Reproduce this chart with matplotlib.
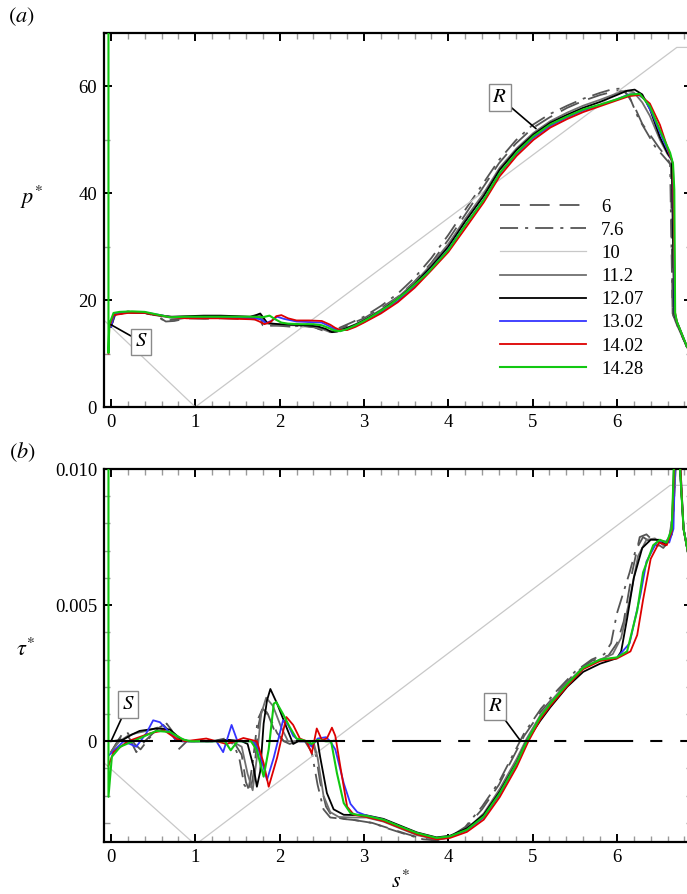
import numpy as np
import matplotlib
matplotlib.use("Agg")
import matplotlib.pyplot as plt
from matplotlib.ticker import MultipleLocator, FixedLocator, FixedFormatter

plt.rcParams['font.family'] = ['Liberation Serif', 'DejaVu Serif']
plt.rcParams['mathtext.fontset'] = 'stix'

OUT_FILE = "out.png"

# ---- legend cases ----
CASES = ["6", "7.6", "10", "11.2", "12.07", "13.02", "14.02", "14.28"]
COLORS = ["#555555", "#555555", "#c8c8c8", "#707070", "black", "#3434ff", "#dd0000", "#12c812"]
STYLES = [(0, (11, 5.5)), (0, (10, 3.9, 1.7, 3.9)), "-", "-", "-", "-", "-", "-"]
WIDTHS = [1.3, 1.3, 0.9, 1.3, 1.3, 1.3, 1.3, 1.5]

# ---- panel (a): p* vs s* ----
s_a_6 = [0.0, 0.05, 0.2, 0.4, 0.55, 0.65, 0.75, 0.9, 1.1, 1.3, 1.5, 1.62, 1.70, 1.76, 1.82, 1.9,
         2.0, 2.15, 2.3, 2.42, 2.5, 2.58, 2.66, 2.75, 2.85, 3.0, 3.2, 3.4, 3.6, 3.8, 4.0, 4.2,
         4.42, 4.6, 4.8, 5.0, 5.2, 5.41, 5.6, 5.8, 6.0, 6.1, 6.2, 6.3, 6.39, 6.5, 6.6, 6.64,
         6.66, 6.7, 6.83]
p_6 = [15.0, 17.3, 17.8, 17.6, 17.0, 16.0, 16.1, 16.6, 16.5, 16.6, 16.5, 16.5, 16.4, 17.0, 15.0, 15.3,
       15.2, 15.0, 15.1, 14.9, 14.4, 14.0, 14.2, 14.8, 15.6, 16.6, 18.5, 20.6, 23.5, 27.0, 31.3, 36.0,
       41.3, 45.6, 49.3, 52.2, 54.2, 56.0, 57.3, 58.4, 59.2, 59.0, 56.5, 53.0, 51.0, 48.5, 46.5, 45.2,
       17.5, 15.8, 11.2]

s_a_76 = [0.0, 0.05, 0.2, 0.4, 0.55, 0.62, 0.72, 0.9, 1.1, 1.3, 1.5, 1.6, 1.68, 1.74, 1.8, 1.88,
          2.0, 2.15, 2.3, 2.4, 2.48, 2.55, 2.62, 2.72, 2.85, 3.0, 3.2, 3.4, 3.6, 3.8, 4.0, 4.2,
          4.42, 4.6, 4.8, 5.0, 5.2, 5.41, 5.6, 5.8, 5.95, 6.05, 6.15, 6.25, 6.35, 6.45, 6.57, 6.63,
          6.66, 6.7, 6.83]
p_76 = [15.0, 17.4, 17.9, 17.7, 17.1, 16.2, 16.3, 16.7, 16.6, 16.7, 16.6, 16.6, 16.8, 16.9, 15.3, 15.2,
        15.3, 15.1, 15.2, 15.0, 14.5, 14.1, 14.2, 14.9, 15.8, 16.9, 18.9, 21.2, 24.2, 27.9, 32.2, 36.9,
        42.0, 46.2, 49.9, 52.8, 54.8, 56.4, 57.7, 58.8, 59.5, 59.6, 58.0, 54.2, 51.5, 48.8, 46.6, 45.5,
        17.5, 15.8, 11.2]

s_a_10 = [-0.08, 1.0, 6.71, 6.9]
p_10 = [16.2, 0.0, 67.3, 67.3]

s_a_112 = [0.0, 0.04, 0.2, 0.4, 0.55, 0.72, 0.9, 1.1, 1.3, 1.5, 1.65, 1.72, 1.76, 1.83, 1.92, 2.0,
           2.15, 2.3, 2.42, 2.52, 2.6, 2.68, 2.78, 2.9, 3.0, 3.2, 3.4, 3.6, 3.8, 4.0, 4.2, 4.42,
           4.61, 4.81, 5.01, 5.21, 5.41, 5.6, 5.8, 6.0, 6.1, 6.2, 6.3, 6.39, 6.51, 6.6, 6.65, 6.68,
           6.71, 6.83]
p_112 = [15.0, 17.3, 17.7, 17.6, 17.1, 16.7, 16.8, 16.9, 16.9, 16.8, 16.8, 17.1, 17.3, 15.7, 15.4, 15.4,
         15.3, 15.2, 15.0, 14.5, 14.0, 14.1, 14.7, 15.5, 16.3, 18.2, 20.5, 23.3, 26.7, 30.5, 35.2, 40.0,
         44.8, 48.4, 51.3, 53.5, 55.1, 56.4, 57.5, 58.7, 59.2, 58.9, 57.0, 54.5, 50.0, 47.3, 46.2, 17.5,
         15.9, 11.2]

s_a_12 = [0.0, 0.04, 0.2, 0.4, 0.55, 0.72, 0.9, 1.1, 1.3, 1.5, 1.65, 1.72, 1.77, 1.85, 1.92, 2.0,
          2.15, 2.3, 2.45, 2.55, 2.62, 2.7, 2.8, 2.9, 3.0, 3.2, 3.4, 3.6, 3.8, 4.0, 4.2, 4.42,
          4.61, 4.81, 5.01, 5.21, 5.41, 5.6, 5.8, 6.0, 6.12, 6.21, 6.3, 6.39, 6.51, 6.6, 6.65, 6.68,
          6.71, 6.83]
p_12 = [15.0, 17.3, 17.7, 17.6, 17.2, 16.9, 17.0, 17.1, 17.1, 17.0, 16.9, 17.2, 17.5, 15.8, 15.6, 15.5,
        15.4, 15.3, 15.1, 14.6, 14.0, 14.2, 14.8, 15.4, 16.2, 18.0, 20.2, 23.0, 26.3, 30.0, 34.7, 39.5,
        44.4, 48.1, 51.0, 53.2, 54.7, 56.0, 57.1, 58.4, 59.2, 59.4, 58.5, 55.8, 50.5, 47.5, 46.3, 17.5,
        15.9, 11.2]

s_a_13 = [0.0, 0.04, 0.2, 0.4, 0.55, 0.72, 0.9, 1.1, 1.3, 1.5, 1.7, 1.78, 1.84, 1.91, 1.97, 2.05,
          2.2, 2.35, 2.5, 2.58, 2.65, 2.72, 2.8, 2.9, 3.0, 3.2, 3.4, 3.6, 3.8, 4.0, 4.2, 4.42,
          4.61, 4.81, 5.01, 5.21, 5.41, 5.6, 5.8, 6.0, 6.14, 6.24, 6.33, 6.42, 6.52, 6.62, 6.665, 6.685,
          6.71, 6.83]
p_13 = [15.0, 17.4, 17.8, 17.7, 17.3, 16.8, 16.8, 16.8, 16.8, 16.7, 16.6, 16.4, 15.7, 16.2, 16.9, 16.5,
        16.0, 15.9, 15.8, 15.2, 14.6, 14.3, 14.5, 15.2, 15.9, 17.7, 19.8, 22.6, 25.9, 29.5, 34.0, 38.8,
        43.7, 47.4, 50.4, 52.6, 54.2, 55.5, 56.5, 57.6, 58.5, 58.6, 57.6, 54.8, 51.0, 47.4, 45.5, 17.6,
        16.0, 11.3]

s_a_14 = [-0.03, -0.02, 0.03, 0.2, 0.4, 0.55, 0.72, 0.9, 1.1, 1.3, 1.5, 1.7, 1.76, 1.82, 1.9, 1.96,
          2.02, 2.1, 2.2, 2.35, 2.5, 2.6, 2.66, 2.72, 2.8, 2.9, 3.0, 3.2, 3.4, 3.6, 3.8, 4.0,
          4.2, 4.42, 4.61, 4.81, 5.01, 5.21, 5.41, 5.6, 5.8, 6.0, 6.15, 6.27, 6.39, 6.51, 6.6, 6.665,
          6.69, 6.71, 6.83]
p_14 = [10.0, 15.0, 17.2, 17.6, 17.6, 17.2, 16.8, 16.6, 16.6, 16.6, 16.5, 16.4, 16.0, 15.5, 16.0, 17.0,
        17.2, 16.6, 16.2, 16.2, 16.1, 15.4, 14.8, 14.4, 14.4, 15.0, 15.8, 17.5, 19.6, 22.3, 25.6, 29.0,
        33.4, 38.3, 43.2, 47.0, 50.0, 52.3, 53.9, 55.2, 56.3, 57.4, 58.2, 58.4, 56.8, 52.8, 48.5, 45.5,
        17.6, 16.0, 11.3]

s_a_1428 = [-0.03, -0.03, -0.02, 0.03, 0.1, 0.25, 0.4, 0.55, 0.7, 0.9, 1.1, 1.3, 1.5, 1.7, 1.8, 1.88,
            1.95, 2.02, 2.1, 2.25, 2.4, 2.5, 2.58, 2.65, 2.72, 2.8, 2.9, 3.0, 3.15, 3.3, 3.5, 3.75,
            4.0, 4.2, 4.42, 4.61, 4.81, 5.01, 5.21, 5.41, 5.6, 5.8, 6.0, 6.16, 6.27, 6.39, 6.51, 6.63,
            6.665, 6.68, 6.69, 6.71, 6.83]
p_1428 = [72.0, 10.1, 15.5, 17.6, 17.8, 17.9, 17.8, 17.3, 16.8, 16.9, 16.9, 16.9, 16.9, 16.9, 16.8, 17.1,
          16.4, 15.8, 15.6, 15.5, 15.5, 15.3, 14.8, 14.3, 14.2, 14.6, 15.3, 16.1, 17.5, 19.0, 21.5, 25.0,
          29.4, 34.0, 38.8, 43.8, 47.6, 50.7, 52.9, 54.4, 55.7, 56.6, 57.6, 58.5, 58.6, 56.3, 51.8, 47.6,
          45.5, 40.7, 17.6, 16.0, 11.3]

# ---- panel (b): tau* vs s*, values in units of 1e-3 ----
s_b_6 = [0.0, 0.08, 0.15, 0.22, 0.3, 0.4, 0.5, 0.6, 0.66, 0.72, 0.8, 0.9, 1.2, 1.35, 1.45, 1.55,
         1.6, 1.65, 1.7, 1.75, 1.8, 1.86, 1.95, 2.05, 2.12, 2.2, 2.35, 2.42, 2.48, 2.55, 2.62, 2.75,
         2.9, 3.1, 3.3, 3.5, 3.7, 3.86, 4.0, 4.2, 4.4, 4.6, 4.8, 4.9, 5.1, 5.3, 5.5, 5.7,
         5.9, 6.0, 6.08, 6.18, 6.27, 6.35, 6.45, 6.55, 6.62, 6.67, 6.72, 6.79, 6.85]
t_6 = [-0.4, 0.0, 0.35, 0.1, -0.4, 0.0, 0.3, 0.55, 0.65, 0.4, -0.3, 0.0, 0.0, 0.1, 0.0, -0.5,
       -1.5, -1.9, -1.0, 0.6, 1.3, 1.0, 0.3, 0.0, -0.1, 0.0, 0.0, -0.3, -1.5, -2.4, -2.75, -2.85,
       -2.9, -3.0, -3.2, -3.4, -3.58, -3.62, -3.55, -3.2, -2.5, -1.6, -0.4, 0.2, 1.1, 1.8, 2.5, 2.95,
       3.15, 3.6, 4.4, 6.2, 7.5, 7.6, 7.3, 7.1, 7.4, 8.5, 11.5, 7.8, 6.8]

s_b_76 = [0.0, 0.1, 0.2, 0.28, 0.35, 0.45, 0.55, 0.62, 0.7, 0.78, 0.9, 1.2, 1.35, 1.45, 1.52, 1.58,
          1.63, 1.68, 1.74, 1.8, 1.88, 1.97, 2.05, 2.15, 2.3, 2.38, 2.45, 2.52, 2.6, 2.75, 2.9, 3.1,
          3.3, 3.5, 3.7, 3.86, 4.0, 4.2, 4.4, 4.6, 4.8, 4.9, 5.1, 5.3, 5.5, 5.7, 5.85, 5.93,
          6.0, 6.08, 6.15, 6.22, 6.31, 6.43, 6.55, 6.62, 6.67, 6.72, 6.79, 6.85]
t_76 = [-0.4, 0.1, 0.3, -0.1, -0.3, 0.1, 0.45, 0.6, 0.35, 0.0, 0.0, 0.0, 0.05, -0.1, -0.6, -1.6,
        -1.8, -0.8, 0.8, 1.2, 0.9, 0.3, 0.0, 0.0, 0.0, -0.4, -1.6, -2.5, -2.8, -2.85, -2.9, -3.0,
        -3.22, -3.42, -3.6, -3.64, -3.55, -3.15, -2.4, -1.5, -0.3, 0.3, 1.2, 1.9, 2.55, 3.0, 3.2, 3.6,
        4.7, 5.5, 6.2, 7.0, 7.5, 7.25, 7.1, 7.4, 8.5, 11.5, 7.8, 6.8]

s_b_10 = [-0.08, 1.0, 6.63, 6.9]
t_10 = [-0.8, -3.8, 9.4, 9.4]

s_b_112 = [0.0, 0.1, 0.2, 0.3, 0.45, 0.55, 0.65, 0.75, 0.85, 1.2, 1.4, 1.55, 1.62, 1.68, 1.73, 1.78,
           1.84, 1.92, 2.02, 2.1, 2.2, 2.4, 2.45, 2.52, 2.6, 2.7, 2.85, 3.03, 3.23, 3.43, 3.63, 3.86,
           4.02, 4.22, 4.42, 4.61, 4.81, 4.93, 5.09, 5.21, 5.41, 5.6, 5.8, 5.95, 6.05, 6.15, 6.25, 6.35,
           6.45, 6.55, 6.62, 6.67, 6.72, 6.79, 6.85]
t_112 = [-0.4, 0.0, 0.2, 0.3, 0.4, 0.5, 0.45, 0.2, 0.0, 0.0, 0.05, -0.2, -1.2, -1.8, -0.6, 1.0,
         1.6, 1.3, 0.5, 0.0, 0.0, 0.0, -0.6, -2.0, -2.6, -2.78, -2.8, -2.8, -2.95, -3.2, -3.45, -3.6,
         -3.52, -3.22, -2.65, -1.75, -0.65, 0.1, 0.95, 1.45, 2.15, 2.72, 3.0, 3.2, 3.8, 5.2, 6.8, 7.4,
         7.45, 7.2, 7.5, 8.5, 11.5, 7.8, 6.8]

s_b_12 = [0.0, 0.14, 0.25, 0.34, 0.54, 0.7, 0.82, 0.92, 1.2, 1.4, 1.55, 1.62, 1.69, 1.73, 1.77, 1.81,
          1.85, 1.89, 1.97, 2.08, 2.16, 2.22, 2.45, 2.48, 2.56, 2.64, 2.76, 3.03, 3.23, 3.43, 3.63, 3.86,
          4.02, 4.22, 4.42, 4.61, 4.81, 4.93, 5.09, 5.21, 5.41, 5.6, 5.8, 6.0, 6.05, 6.12, 6.2, 6.3,
          6.4, 6.5, 6.58, 6.65, 6.69, 6.72, 6.79, 6.85]
t_12 = [0.0, 0.05, 0.25, 0.38, 0.47, 0.43, 0.1, 0.0, 0.0, 0.05, 0.0, -0.1, -0.94, -1.67, -1.1, 0.65,
        1.5, 1.92, 1.38, 0.52, -0.1, 0.0, 0.0, -0.57, -1.9, -2.5, -2.7, -2.72, -2.85, -3.1, -3.35, -3.53,
        -3.47, -3.2, -2.7, -1.85, -0.78, 0.0, 0.75, 1.25, 2.0, 2.55, 2.85, 3.05, 3.3, 4.5, 6.0, 7.1,
        7.4, 7.4, 7.2, 7.6, 11.5, 11.5, 7.8, 6.8]

s_b_13 = [-0.02, 0.05, 0.15, 0.3, 0.42, 0.5, 0.58, 0.66, 0.77, 0.85, 1.25, 1.33, 1.43, 1.5, 1.68, 1.75,
          1.85, 1.93, 2.04, 2.1, 2.16, 2.24, 2.32, 2.38, 2.45, 2.55, 2.6, 2.66, 2.76, 2.84, 2.92, 3.03,
          3.23, 3.43, 3.63, 3.86, 4.02, 4.22, 4.42, 4.61, 4.81, 4.93, 5.09, 5.21, 5.41, 5.6, 5.8, 6.0,
          6.15, 6.28, 6.35, 6.47, 6.55, 6.62, 6.67, 6.7, 6.73, 6.79, 6.85]
t_13 = [-0.5, -0.3, 0.0, -0.2, 0.3, 0.77, 0.7, 0.44, 0.05, 0.0, 0.0, -0.4, 0.6, 0.0, 0.0, -0.3,
        -1.42, -0.6, 0.77, 0.6, 0.2, 0.0, 0.0, -0.2, 0.1, 0.15, 0.0, -0.3, -1.54, -2.3, -2.6, -2.73,
        -2.88, -3.14, -3.38, -3.56, -3.5, -3.27, -2.8, -1.95, -0.85, 0.0, 0.85, 1.35, 2.07, 2.68, 2.98, 3.06,
        3.6, 5.4, 6.6, 7.3, 7.35, 7.3, 7.8, 11.5, 11.5, 7.8, 6.8]

s_b_14 = [-0.03, 0.03, 0.2, 0.47, 0.63, 0.78, 0.88, 1.13, 1.25, 1.37, 1.47, 1.57, 1.73, 1.81, 1.87, 1.97,
          2.08, 2.16, 2.24, 2.32, 2.38, 2.44, 2.5, 2.56, 2.62, 2.66, 2.72, 2.8, 2.88, 3.03, 3.23, 3.43,
          3.63, 3.86, 4.02, 4.22, 4.42, 4.61, 4.81, 4.95, 5.09, 5.21, 5.41, 5.6, 5.8, 6.0, 6.16, 6.24,
          6.31, 6.4, 6.5, 6.59, 6.65, 6.7, 6.73, 6.79, 6.85]
t_14 = [-0.9, -0.4, 0.0, 0.3, 0.4, 0.08, 0.0, 0.1, 0.0, -0.1, 0.0, 0.12, 0.0, -0.8, -1.67, -0.6,
        0.89, 0.6, 0.1, 0.0, -0.45, 0.47, 0.05, 0.1, 0.5, 0.2, -0.94, -2.4, -2.7, -2.78, -2.93, -3.18,
        -3.42, -3.6, -3.55, -3.33, -2.88, -2.05, -0.95, 0.0, 0.8, 1.3, 2.03, 2.65, 2.95, 3.04, 3.3, 3.9,
        5.2, 6.7, 7.3, 7.2, 7.7, 11.5, 11.5, 7.8, 6.8]

s_b_1428 = [-0.03, -0.03, 0.01, 0.11, 0.26, 0.42, 0.54, 0.7, 0.86, 0.95, 1.2, 1.35, 1.42, 1.5, 1.66, 1.73,
            1.81, 1.87, 1.93, 1.96, 2.04, 2.12, 2.2, 2.32, 2.38, 2.45, 2.55, 2.61, 2.68, 2.76, 2.84, 2.92,
            3.03, 3.23, 3.43, 3.63, 3.86, 4.02, 4.22, 4.42, 4.61, 4.81, 4.93, 5.09, 5.21, 5.41, 5.6, 5.8,
            6.0, 6.12, 6.24, 6.31, 6.43, 6.51, 6.59, 6.65, 6.69, 6.72, 6.79, 6.85]
t_1428 = [10.5, -2.04, -0.57, -0.2, 0.0, 0.22, 0.38, 0.34, 0.06, 0.0, 0.0, 0.0, -0.33, 0.0, 0.0, -0.33,
          -1.3, -0.3, 1.38, 1.44, 1.0, 0.52, 0.1, 0.0, -0.1, 0.05, 0.0, 0.0, -1.18, -2.27, -2.64, -2.7,
          -2.74, -2.88, -3.13, -3.37, -3.55, -3.49, -3.25, -2.76, -1.91, -0.81, 0.0, 0.89, 1.38, 2.1, 2.7, 3.0,
          3.08, 3.3, 4.8, 6.2, 7.2, 7.4, 7.3, 7.8, 11.5, 11.5, 7.8, 6.8]

PANEL_A = [(s_a_6, p_6), (s_a_76, p_76), (s_a_10, p_10), (s_a_112, p_112),
           (s_a_12, p_12), (s_a_13, p_13), (s_a_14, p_14), (s_a_1428, p_1428)]
PANEL_B = [(s_b_6, t_6), (s_b_76, t_76), (s_b_10, t_10), (s_b_112, t_112),
           (s_b_12, t_12), (s_b_13, t_13), (s_b_14, t_14), (s_b_1428, t_1428)]

W, H = 687, 894
fig = plt.figure(figsize=(W / 100, H / 100), dpi=100)


def px_axes(left, top, right, bottom):
    return fig.add_axes([left / W, 1 - bottom / H, (right - left) / W, (bottom - top) / H])


def style_axes(ax):
    ax.set_xlim(-0.083, 6.89)
    ax.xaxis.set_major_locator(MultipleLocator(1))
    ax.xaxis.set_minor_locator(MultipleLocator(0.2))
    ax.tick_params(which='both', direction='in', top=True, right=True, labelsize=13.5)
    ax.tick_params(which='major', length=6, width=1.4, color='black', pad=5)
    ax.tick_params(which='minor', length=4, width=1.0, color='#9a9a9a')
    for sp in ax.spines.values():
        sp.set_linewidth(1.6)


def label_box(ax, text, box_xy, point_xy):
    ax.annotate(text, xy=point_xy, xytext=box_xy, fontsize=15, ha='center', va='center',
                bbox=dict(boxstyle='square,pad=0.18', fc='white', ec='#8a8a8a', lw=1.0),
                arrowprops=dict(arrowstyle='-', color='black', lw=1.2, shrinkA=0, shrinkB=0),
                zorder=10)


# ---- (a) ----
ax1 = px_axes(104, 33, 692, 407)
style_axes(ax1)
handles = []
for i, (s, v) in enumerate(PANEL_A):
    ln, = ax1.plot(s, v, color=COLORS[i], linestyle=STYLES[i], lw=WIDTHS[i],
                   label=CASES[i], zorder=2 + i * 0.1, solid_joinstyle='round')
    handles.append(ln)
ax1.set_ylim(0, 70)
ax1.yaxis.set_major_locator(MultipleLocator(20))
ax1.yaxis.set_minor_locator(MultipleLocator(10))
label_box(ax1, r'$S$', (0.36, 12.2), (0.0, 15.4))
label_box(ax1, r'$R$', (4.61, 57.9), (5.04, 52.1))
ax1.legend(handles=handles, loc='upper left', bbox_to_anchor=(0.673, 0.557), frameon=False,
           fontsize=13.5, handlelength=4.6, handletextpad=0.8, labelspacing=0.32,
           borderpad=0, borderaxespad=0)

# ---- (b) ----
ax2 = px_axes(104, 469, 692, 842)
style_axes(ax2)
for i, (s, v) in enumerate(PANEL_B):
    ax2.plot(s, np.array(v) * 1e-3, color=COLORS[i], linestyle=STYLES[i], lw=WIDTHS[i],
             zorder=2 + i * 0.1, solid_joinstyle='round')
ax2.axhline(0.0, color='black', lw=1.5, linestyle=(0, (23.5, 8.2, 5.8, 8.6)), zorder=3)
ax2.set_ylim(-0.0037, 0.010)
ax2.yaxis.set_major_locator(FixedLocator([0.0, 0.005, 0.010]))
ax2.yaxis.set_major_formatter(FixedFormatter(["0", "0.005", "0.010"]))
ax2.yaxis.set_minor_locator(MultipleLocator(0.001))
label_box(ax2, r'$S$', (0.2, 0.00135), (0.0, 0.0))
label_box(ax2, r'$R$', (4.555, 0.00128), (4.86, 0.0))

# ---- labels ----
fig.text(31 / W, 1 - 197 / H, r'$p^{*}$', fontsize=16, ha='center', va='center')
fig.text(26 / W, 1 - 650 / H, r'$\tau^{*}$', fontsize=16, ha='center', va='center')
fig.text(400 / W, 1 - 882 / H, r'$s^{*}$', fontsize=16, ha='center', va='center')
fig.text(21 / W, 1 - 17 / H, r'$(a)$', fontsize=16, ha='center', va='center')
fig.text(22 / W, 1 - 452 / H, r'$(b)$', fontsize=16, ha='center', va='center')

fig.savefig(OUT_FILE, dpi=100)
